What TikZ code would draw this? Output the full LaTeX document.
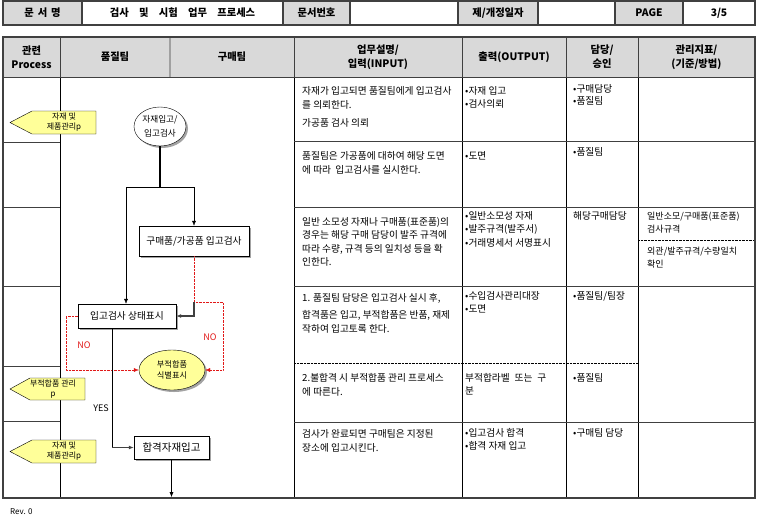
\documentclass[tikz,border=0pt]{standalone}
\usepackage{fontspec}
\setmainfont{Noto Sans CJK KR}
\usetikzlibrary{arrows.meta,shapes.geometric,shadows}

\definecolor{hdrgray}{RGB}{217,217,217}
\definecolor{flagyellow}{RGB}{255,255,153}
\definecolor{rulegray}{RGB}{64,64,64}
\definecolor{lanegray}{RGB}{160,160,160}
\definecolor{nored}{RGB}{225,25,25}

\tikzset{
  hdr/.style={font=\bfseries\fontsize{10.3}{14}\selectfont, align=center, inner sep=0pt},
  desc/.style={font=\fontsize{9.7}{14}\selectfont, align=left, anchor=north west, inner sep=0pt},
  flag/.style={draw=black, fill=flagyellow},
  flagtext/.style={font=\fontsize{8}{10}\selectfont, align=center, inner sep=0pt},
  shade/.style={drop shadow={shadow xshift=2pt, shadow yshift=-2pt, fill=black!60, opacity=.6}},
  procbox/.style={draw, fill=white, font=\fontsize{9.7}{10}\selectfont, inner sep=0pt, shade},
  termel/.style={ellipse, draw, fill=white, font=\fontsize{8.6}{14}\selectfont, align=center, inner sep=0pt, shade},
  flow/.style={-{Latex[length=5pt,width=4pt]}},
  noflow/.style={nored, densely dotted, -{Latex[length=5pt,width=4pt]}},
  grayflow/.style={rulegray, line width=1.2pt, -{Latex[length=5pt,width=4pt]}},
  nolabel/.style={text=nored, font=\fontsize{9}{10}\selectfont, inner sep=0pt},
}

\begin{document}
\begin{tikzpicture}[x=1pt,y=-1pt]
  \useasboundingbox (0,0) rectangle (757,523);

  % title block
  \fill[hdrgray] (3,1) rectangle (82,25) (283,1) rectangle (350,25)
    (458,1) rectangle (538,25) (615,1) rectangle (683,25);
  \foreach \x in {82,283,350,458,538,615,683}
    \draw[rulegray, line width=1.2pt] (\x,1) -- (\x,25);
  \draw[rulegray, line width=1.6pt] (3,1) rectangle (755,25);
  \node[hdr] (tname) at (42.5,13) {문\hspace{4pt}서\hspace{4pt}명};
  \node[hdr] (title) at (182.5,13) {검사\quad 및\quad 시험\quad 업무\quad 프로세스};
  \node[hdr] (tno) at (316.5,13) {문서번호};
  \node[hdr] (tdate) at (498,13) {제/개정일자};
  \node[hdr] (tpage) at (649,13) {PAGE};
  \node[hdr] (tpnum) at (719,13) {3/5};

  % main table
  \fill[hdrgray] (3,37) rectangle (755,77);
  \draw[lanegray, line width=1.2pt] (170,37) -- (170,77);
  \foreach \x in {60,294,462,566,638}
    \draw[rulegray, line width=1pt] (\x,37) -- (\x,77);
  \foreach \x in {60,294,462,566,638}
    \draw (\x,77) -- (\x,498);
  \draw[rulegray, line width=1pt] (3,77) -- (755,77);
  % row rules
  \foreach \y in {142,207,286,366,421}
    \draw[rulegray] (3,\y) -- (60,\y);
  \foreach \y in {141,207,286,422}
    \draw[rulegray] (294,\y) -- (755,\y);
  \draw[densely dotted] (294,363) -- (638,363);
  \draw[densely dotted] (638,240) -- (755,240);
  \draw[rulegray, line width=1.6pt] (3,37) rectangle (755,498);

  \node[hdr] (hproc) at (31.5,57) {관련\\Process};
  \node[hdr] (hqa) at (115,57) {품질팀};
  \node[hdr] (hbuy) at (232,57) {구매팀};
  \node[hdr] (hin) at (378,57) {업무설명/\\입력(INPUT)};
  \node[hdr] (hout) at (514,57) {출력(OUTPUT)};
  \node[hdr] (howner) at (602,57) {담당/\\승인};
  \node[hdr] (hkpi) at (696.5,57) {관리지표/\\(기준/방법)};

  % related process flags
  \draw[flag] (10,122.5) -- (32,111) -- (96,111) -- (96,134) -- (32,134) -- cycle;
  \node[flagtext] (f1) at (64,122.5) {자재 및\\제품관리p};
  \draw[flag] (10,389) -- (30,378) -- (85,378) -- (85,400) -- (30,400) -- cycle;
  \node[flagtext] (f2) at (53,389) {부적합품 관리\\p};
  \draw[flag] (10,451.5) -- (32,440) -- (96,440) -- (96,463) -- (32,463) -- cycle;
  \node[flagtext] (f3) at (64,451.5) {자재 및\\제품관리p};

  % flow
  \node[termel, minimum width=52, minimum height=39] (recv) at (160,126.5) {자재입고/\\입고검사};
  \node[procbox, minimum width=110, minimum height=30] (insp) at (194,241) {구매품/가공품 입고검사};
  \node[procbox, minimum width=98, minimum height=24] (mark) at (127,316) {입고검사 상태표시};
  \node[termel, fill=flagyellow, font=\fontsize{8.2}{11}\selectfont, minimum width=66, minimum height=40] (ncr) at (172,370) {부적합품\\식별표시};
  \node[procbox, font=\fontsize{10.5}{11}\selectfont, minimum width=75, minimum height=23] (pass) at (171.5,447.5) {합격자재입고};

  \coordinate (fork) at (160,187);
  \coordinate (forkl) at (126,187);
  \coordinate (forkr) at (194,187);
  \coordinate (split) at (194,302);
  \coordinate (rbend) at (223,302);
  \coordinate (lbend) at (66,316);
  \coordinate (ybend) at (112,447.5);
  \coordinate (passout) at (171.5,497);

  \draw[line width=1.6pt] (recv.south) -- (fork);
  \draw (forkl) -- (forkr);
  \draw[flow] (forkl) -- (forkl |- mark.north);
  \draw[flow] (forkr) -- (insp.north);
  \draw[noflow] (insp.south) -- (split) -- (rbend) |- (ncr.east);
  \draw[grayflow] (split) |- (mark.east);
  \draw[noflow] (mark.west) -- (lbend) |- (ncr.west);
  \draw ([xshift=-15pt]mark.south) -- (ybend);
  \draw[grayflow] (ybend) -- (pass.west);
  \draw[flow] (pass.south) -- (passout);

  \node[nolabel] (nol) at (84,345) {NO};
  \node[nolabel] (nor) at (210,337) {NO};
  \node[font=\fontsize{9}{10}\selectfont, inner sep=0pt] (yes) at (101,408) {YES};

  % descriptions
  \node[desc] (d1) at (302,85.8) {자재가 입고되면 품질팀에게 입고검사\\를 의뢰한다.\\[4pt]가공품 검사 의뢰};
  \node[desc] (o1) at (465,85.8) {•자재 입고\\[-1pt]•검사의뢰};
  \node[desc] (m1) at (573,83.8) {•구매담당\\[-2pt]•품질팀};

  \node[desc] (d2) at (302,150.8) {품질팀은 가공품에 대하여 해당 도면\\에 따라\ \ 입고검사를 실시한다.};
  \node[desc] (o2) at (465,150.8) {•도면};
  \node[desc] (m2) at (573,146.8) {•품질팀};

  \node[desc] (d3) at (302,216.8) {일반 소모성 자재나 구매품(표준품)의\\[-.5pt]경우는 해당 구매 담당이 발주 규격에\\[-.5pt]따라 수량, 규격 등의 일치성 등을 확\\[-.5pt]인한다.};
  \node[desc] (o3) at (465,210.8) {•일반소모성 자재\\[-.5pt]•발주규격(발주서)\\[-.5pt]•거래명세서 서명표시};
  \node[desc] (m3) at (573,210.8) {해당구매담당};
  \node[desc, font=\fontsize{9}{14}\selectfont] (k3a) at (647,212) {일반소모/구매품(표준품)\\[-1pt]검사규격};
  \node[desc, font=\fontsize{9}{14}\selectfont] (k3b) at (647,247) {외관/발주규격/수량일치\\[-1pt]확인};

  \node[desc] (d4) at (302,292.8) {1. 품질팀 담당은 입고검사 실시 후,\\[3pt]합격품은 입고, 부적합품은 반품, 재제\\작하여 입고토록 한다.};
  \node[desc] (o4) at (465,290.8) {•수입검사관리대장\\[-1pt]•도면};
  \node[desc] (m4) at (573,290.8) {•품질팀/팀장};

  \node[desc] (d5) at (302,372.8) {2.불합격 시 부적합품 관리 프로세스\\에 따른다.};
  \node[desc] (o5) at (465,372.8) {부적합라벨\enspace 또는\enspace 구\\[-1pt]분};
  \node[desc] (m5) at (573,372.8) {•품질팀};

  \node[desc] (d6) at (302,428.8) {검사가 완료되면 구매팀은 지정된\\장소에 입고시킨다.};
  \node[desc] (o6) at (465,427.8) {•입고검사 합격\\[-1pt]•합격 자재 입고};
  \node[desc] (m6) at (573,427.8) {•구매팀 담당};

  \node[font=\fontsize{8}{9}\selectfont, anchor=west, inner sep=0pt] (rev) at (10,512) {Rev. 0};
\end{tikzpicture}
\end{document}
